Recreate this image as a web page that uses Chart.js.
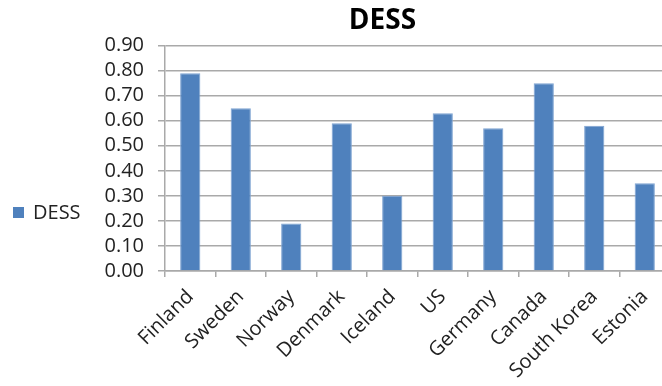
<!DOCTYPE html>
<html>
<head>
<meta charset="utf-8">
<script src="https://cdn.jsdelivr.net/npm/chart.js@4.4.1/dist/chart.umd.min.js"></script>
<style>
  html, body { margin: 0; padding: 0; background: #fff; overflow: hidden; }
  #wrap { width: 670px; height: 386px; }
</style>
</head>
<body>
<div id="wrap"><canvas id="myChart" width="670" height="386"></canvas></div>
<script>
const countries = ['Finland', 'Sweden', 'Norway', 'Denmark', 'Iceland', 'US', 'Germany', 'Canada', 'South Korea', 'Estonia'];
const dessValues = [0.79, 0.65, 0.19, 0.59, 0.30, 0.63, 0.57, 0.75, 0.58, 0.35];
const seriesName = 'DESS';

const FONT = "'Open Sans', sans-serif";
const GRID = '#a9a9a9';

// legend sits to the left of the axis, a bit below the middle
const sideLegend = {
    id: 'sideLegend',
    afterDraw(chart) {
        const ctx = chart.ctx;
        const ds = chart.data.datasets[0];
        ctx.save();
        ctx.fillStyle = ds.backgroundColor;
        ctx.fillRect(13, 207, 11, 11);
        ctx.fillStyle = '#222';
        ctx.font = "20px " + FONT;
        ctx.textBaseline = 'middle';
        ctx.textAlign = 'left';
        ctx.fillText(ds.label, 33, 213);
        ctx.restore();
    }
};

const ctx = document.getElementById('myChart');
const myChart = new Chart(ctx, {
    type: 'bar',
    data: {
        labels: countries,
        datasets: [{
            label: seriesName,
            data: dessValues,
            backgroundColor: '#4f81bd',
            borderColor: '#7ea3d2',
            borderWidth: 1,
            barPercentage: 0.4,
            categoryPercentage: 1.0
        }]
    },
    options: {
        responsive: false,
        animation: false,
        layout: { padding: { left: 95, right: 0, top: 0, bottom: 0 } },
        plugins: {
            legend: { display: false },
            tooltip: { enabled: false },
            title: {
                display: true,
                text: 'DESS',
                color: '#000',
                font: { family: FONT, size: 28, weight: 'bold' },
                padding: { top: 4, bottom: 8 }
            }
        },
        scales: {
            y: {
                min: 0,
                max: 0.9,
                ticks: {
                    stepSize: 0.1,
                    autoSkip: false,
                    color: '#222',
                    font: { family: FONT, size: 20 },
                    padding: 14,
                    callback: v => v.toFixed(2)
                },
                grid: { color: GRID, lineWidth: 1.5, tickLength: 7, tickColor: GRID },
                border: { color: GRID, width: 1.5 },
                afterFit(scale) { scale.width = 70; }
            },
            x: {
                ticks: {
                    autoSkip: false,
                    color: '#222',
                    font: { family: FONT, size: 20 },
                    minRotation: 45,
                    maxRotation: 45,
                    padding: 8
                },
                grid: { drawOnChartArea: false, tickLength: 6, tickColor: GRID, lineWidth: 1.5 },
                border: { color: GRID, width: 1.5 },
                afterFit(scale) { scale.height = 115; }
            }
        }
    },
    plugins: [sideLegend]
});
</script>
</body>
</html>
